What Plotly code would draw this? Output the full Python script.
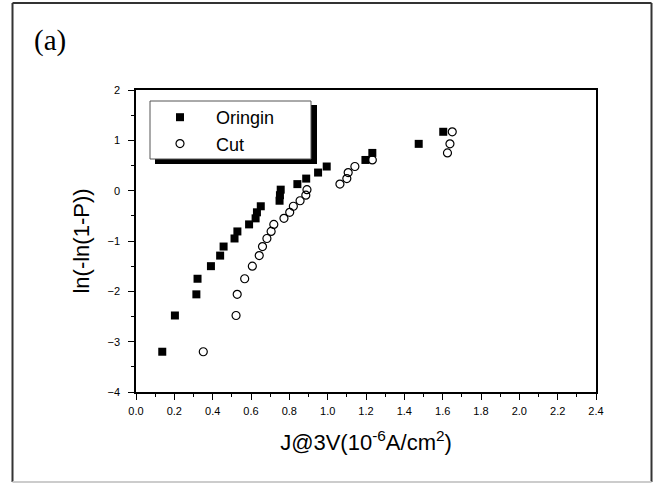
import plotly.graph_objects as go

# Data
y_rank = [-3.20, -2.48, -2.06, -1.75, -1.50, -1.29, -1.11, -0.95, -0.81, -0.67,
          -0.55, -0.43, -0.31, -0.20, -0.09, 0.02, 0.13, 0.24, 0.36, 0.48,
          0.61, 0.75, 0.93, 1.17]
x_origin = [0.137, 0.203, 0.315, 0.321, 0.391, 0.439, 0.457, 0.514, 0.529, 0.590,
            0.624, 0.631, 0.651, 0.749, 0.751, 0.755, 0.842, 0.888, 0.950, 0.995,
            1.197, 1.233, 1.475, 1.603]
x_cut = [0.351, 0.522, 0.528, 0.567, 0.607, 0.643, 0.660, 0.683, 0.705, 0.719,
         0.772, 0.802, 0.821, 0.856, 0.886, 0.892, 1.064, 1.100, 1.107, 1.142,
         1.233, 1.625, 1.638, 1.650]
series_names = ["Oringin", "Cut"]

W, H = 657, 483
L, R, T, B = 136, 61, 90, 91
PW, PH = W - L - R, H - T - B


def px(xp):
    return (xp - L) / PW


def py(yp):
    return (H - B - yp) / PH


FONT = "Arial, Liberation Sans, sans-serif"

fig = go.Figure()
fig.add_trace(go.Scatter(
    x=x_origin, y=y_rank, mode="markers", name=series_names[0], legendgroup="a",
    marker=dict(symbol="square", size=8, color="black", line=dict(width=0)),
))
fig.add_trace(go.Scatter(
    x=x_cut, y=y_rank, mode="markers", name=series_names[1], legendgroup="b",
    marker=dict(symbol="circle-open", size=8, color="black", line=dict(width=1.2)),
))

axis_common = dict(
    showgrid=False, zeroline=False, showline=True, linecolor="black", linewidth=1.5,
    mirror=True, ticks="outside", ticklen=6, tickwidth=1.2, tickcolor="black",
    tickfont=dict(family=FONT, size=11, color="black"),
)

fig.update_xaxes(
    range=[0, 2.4], dtick=0.2, tick0=0, tickformat=".1f",
    minor=dict(dtick=0.1, ticks="outside", ticklen=3, tickwidth=1.2, tickcolor="black"),
    title=dict(text="J@3V(10<sup>-6</sup>A/cm<sup>2</sup>)",
               font=dict(family=FONT, size=22, color="black"), standoff=19),
    ticklabelstandoff=2,
    **axis_common,
)
fig.update_yaxes(
    range=[-4, 2], dtick=1, tick0=0,
    minor=dict(dtick=0.5, ticks="outside", ticklen=3, tickwidth=1.2, tickcolor="black"),
    title=dict(text="ln(-ln(1-P))", font=dict(family=FONT, size=22, color="black"), standoff=12),
    ticklabelstandoff=6,
    **axis_common,
)

shapes = [
    # legend shadow and box
    dict(type="rect", xref="paper", yref="paper", x0=px(155), x1=px(317), y0=py(164), y1=py(105),
         fillcolor="black", line=dict(width=0), layer="above"),
    dict(type="rect", xref="paper", yref="paper", x0=px(150), x1=px(311), y0=py(159), y1=py(101),
         fillcolor="white", line=dict(color="#555555", width=1), layer="above"),
    # outer frame
    dict(type="line", xref="paper", yref="paper", x0=px(12.5), x1=px(12.5), y0=py(482), y1=py(3),
         line=dict(color="#333333", width=2)),
    dict(type="line", xref="paper", yref="paper", x0=px(12.5), x1=px(651.5), y0=py(3), y1=py(3),
         line=dict(color="#333333", width=2)),
    dict(type="line", xref="paper", yref="paper", x0=px(651.5), x1=px(651.5), y0=py(482), y1=py(3),
         line=dict(color="#333333", width=2)),
    dict(type="line", xref="paper", yref="paper", x0=px(12.5), x1=px(651.5), y0=py(482), y1=py(482),
         line=dict(color="#cccccc", width=2)),
]

fig.update_layout(
    width=W, height=H,
    margin=dict(l=L, r=R, t=T, b=B),
    paper_bgcolor="white", plot_bgcolor="white",
    showlegend=True,
    legend=dict(
        x=px(144), y=py(99), xanchor="left", yanchor="top",
        bgcolor="rgba(0,0,0,0)", borderwidth=0,
        font=dict(family=FONT, size=18, color="black"),
        itemwidth=62, tracegroupgap=0,
    ),
    shapes=shapes,
    annotations=[dict(
        text="(a)", xref="paper", yref="paper", x=px(32), y=py(41),
        xanchor="left", yanchor="middle", showarrow=False,
        font=dict(family="Times New Roman, Liberation Serif, serif", size=29, color="black"),
    )],
)

fig.write_html("out.html")
